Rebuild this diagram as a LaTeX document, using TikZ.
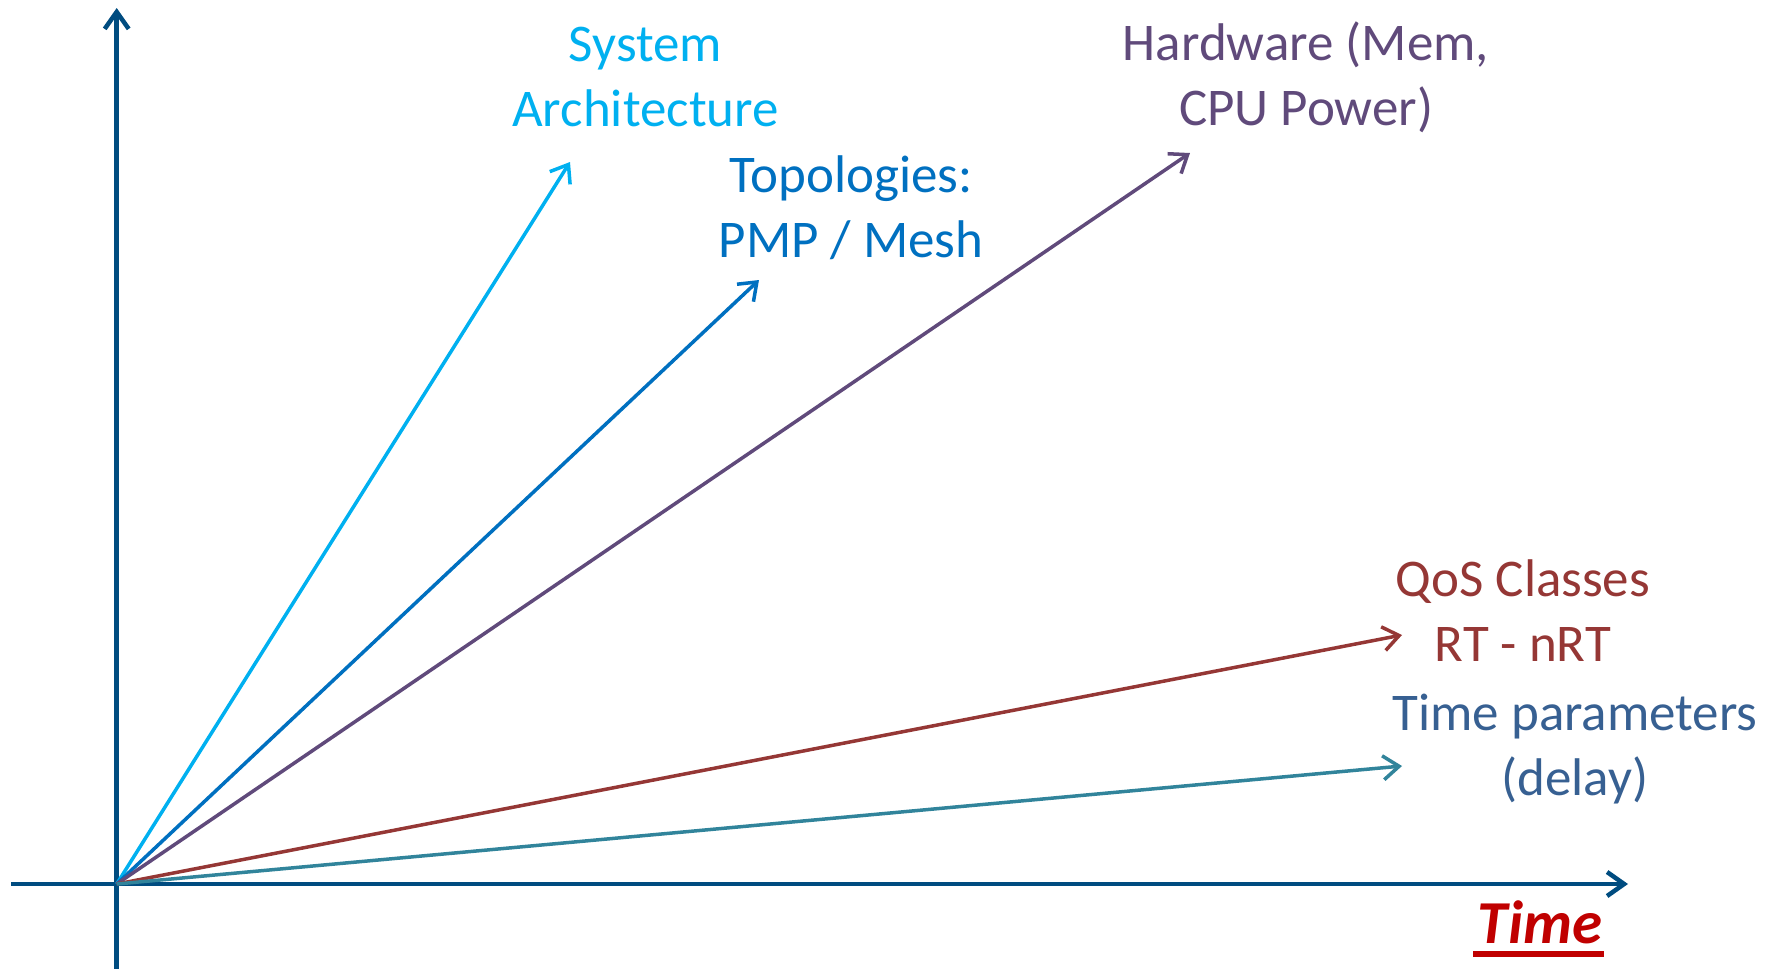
\documentclass[tikz,border=0pt]{standalone}
\usepackage{fontspec}
\setmainfont{Carlito}
\usetikzlibrary{arrows.meta}
\definecolor{axiscol}{HTML}{004C80}
\definecolor{sysarch}{HTML}{00B0F0}
\definecolor{topo}{HTML}{0070C0}
\definecolor{hw}{HTML}{604A7B}
\definecolor{qos}{HTML}{953735}
\definecolor{tparam}{HTML}{376092}
\definecolor{tarrow}{HTML}{31849B}
\definecolor{timecol}{HTML}{C00000}
\tikzset{
  axis/.style={draw=axiscol, line width=4.5pt, -{Straight Barb[length=17pt,width=24pt,line width=4.5pt]}},
  vec/.style={line width=3.5pt, -{Straight Barb[length=16pt,width=24pt,line width=3.5pt]}},
  lbl/.style={inner sep=0pt, align=center, anchor=base, font=\fontsize{53}{64.5}\selectfont},
}
\begin{document}
\begin{tikzpicture}[x=1pt,y=-1pt]
\useasboundingbox (0,0) rectangle (1774,969);
\coordinate (O) at (116.7,884);
\coordinate (ytop) at (116.7,8);
\coordinate (ybot) at (116.7,969);
\coordinate (xleft) at (11,884);
\coordinate (xright) at (1628,884);
\draw[draw=axiscol, line width=4.5pt] (O) -- (ybot);
\draw[draw=axiscol, line width=4.5pt] (xleft) -- (O);
\draw[axis] (O) -- (ytop);
\draw[axis] (O) -- (xright);
\coordinate (tsys) at (570,162);
\coordinate (ttopo) at (759,280);
\coordinate (thw) at (1190,153);
\coordinate (tqos) at (1402,635);
\coordinate (ttime) at (1402,766);
\draw[vec, sysarch] (O) -- (tsys);
\draw[vec, topo] (O) -- (ttopo);
\draw[vec, hw] (O) -- (thw);
\draw[vec, qos] (O) -- (tqos);
\draw[vec, tarrow] (O) -- (ttime);
\node[lbl, text=sysarch] (lsys) at (645.5,126) {System\\Architecture};
\node[lbl, text=topo] (ltopo) at (851,257) {Topologies:\\PMP / Mesh};
\node[lbl, text=hw] (lhw) at (1306,125) {Hardware (Mem,\\CPU Power)};
\node[lbl, text=qos] (lqos) at (1523,661) {QoS Classes\\RT - nRT};
\node[lbl, text=tparam] (ltime) at (1575,795) {Time parameters\\(delay)};
\node[inner sep=0pt, anchor=base, text=timecol, font=\fontsize{61}{70}\selectfont\bfseries\itshape] (ltimeax) at (1540,943) {Time};
\fill[timecol] (1473,951) rectangle (1604,957);
\end{tikzpicture}
\end{document}
